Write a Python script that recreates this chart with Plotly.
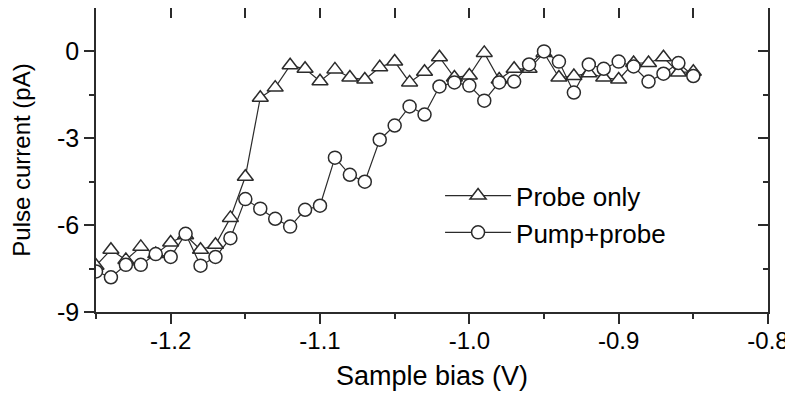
import plotly.graph_objects as go

bias = [-1.25, -1.24, -1.23, -1.22, -1.21, -1.20, -1.19, -1.18, -1.17, -1.16,
        -1.15, -1.14, -1.13, -1.12, -1.11, -1.10, -1.09, -1.08, -1.07, -1.06,
        -1.05, -1.04, -1.03, -1.02, -1.01, -1.00, -0.99, -0.98, -0.97, -0.96,
        -0.95, -0.94, -0.93, -0.92, -0.91, -0.90, -0.89, -0.88, -0.87, -0.86,
        -0.85]

probe_only = [-7.4, -6.85, -7.2, -6.75, -7.0, -6.6, -6.35, -6.85, -6.68, -5.75,
              -4.33, -1.6, -1.25, -0.48, -0.6, -1.03, -0.62, -0.9, -0.97, -0.55,
              -0.35, -1.07, -0.7, -0.2, -0.9, -0.83, -0.05, -0.97, -0.6, -0.6,
              -0.05, -0.9, -0.85, -0.75, -0.9, -0.97, -0.4, -0.4, -0.2, -0.73,
              -0.7]

pump_probe = [-7.6, -7.8, -7.37, -7.37, -7.0, -7.1, -6.3, -7.4, -7.1, -6.45,
              -5.1, -5.43, -5.78, -6.05, -5.47, -5.33, -3.67, -4.26, -4.5, -3.05,
              -2.56, -1.9, -2.18, -1.21, -1.07, -1.18, -1.7, -1.07, -1.04, -0.45,
              0.0, -0.35, -1.42, -0.45, -0.6, -0.35, -0.52, -1.04, -0.77, -0.4,
              -0.85]

x_tick_vals = [-1.2, -1.1, -1.0, -0.9, -0.8]
x_tick_text = ["-1.2", "-1.1", "-1.0", "-0.9", "-0.8"]
y_tick_vals = [-9, -6, -3, 0]
y_tick_text = ["-9", "-6", "-3", "0"]

INK = "#2b2b2b"
FONT = "Liberation Sans, Arial, sans-serif"

fig = go.Figure()
fig.add_trace(go.Scatter(
    x=bias, y=probe_only, name="Probe only", mode="lines+markers",
    line=dict(color=INK, width=1.2),
    marker=dict(symbol="triangle-up", size=14, color="white",
                line=dict(color=INK, width=1.5)),
))
fig.add_trace(go.Scatter(
    x=bias, y=pump_probe, name="Pump+probe", mode="lines+markers",
    line=dict(color=INK, width=1.2),
    marker=dict(symbol="circle", size=13, color="white",
                line=dict(color=INK, width=1.5)),
))
# helper trace so the mirrored (top/right) axes are drawn
fig.add_trace(go.Scatter(x=[None], y=[None], xaxis="x2", yaxis="y2",
                         showlegend=False, hoverinfo="skip"))

xr = [-1.25, -0.8]
yr = [-9, 1.5]

fig.update_layout(
    width=793, height=394,
    margin=dict(l=88, r=33, t=0, b=90),
    paper_bgcolor="white", plot_bgcolor="white",
    font=dict(family=FONT, color="black"),
    showlegend=True,
    legend=dict(x=0.512, y=0.46, xanchor="left", yanchor="top",
                bgcolor="rgba(0,0,0,0)", font=dict(size=26, family=FONT),
                itemwidth=66, tracegroupgap=0),
    xaxis=dict(range=xr, tickvals=x_tick_vals, ticktext=x_tick_text,
               ticks="outside", ticklen=10, tickwidth=1.5, tickcolor=INK,
               minor=dict(tickvals=[-1.25, -1.15, -1.05, -0.95, -0.85],
                          ticks="outside", ticklen=5, tickwidth=1.5, tickcolor=INK),
               showline=True, linecolor=INK, linewidth=1.5, mirror=True,
               showgrid=False, zeroline=False, automargin=False,
               tickfont=dict(size=24), ticklabelstandoff=-4,
               title=dict(text="Sample bias (V)", font=dict(size=27), standoff=14)),
    yaxis=dict(range=yr, tickvals=y_tick_vals, ticktext=y_tick_text,
               ticks="outside", ticklen=10, tickwidth=1.5, tickcolor=INK,
               minor=dict(tickvals=[-7.5, -4.5, -1.5],
                          ticks="outside", ticklen=5, tickwidth=1.5, tickcolor=INK),
               showline=True, linecolor=INK, linewidth=1.5, mirror=True,
               showgrid=False, zeroline=False, automargin=False,
               tickfont=dict(size=25),
               title=dict(text="Pulse current (pA)", font=dict(size=24), standoff=22)),
    xaxis2=dict(range=xr, overlaying="x", side="top", anchor="y2",
                tickvals=[-1.25, -1.2, -1.15, -1.1, -1.05, -1.0, -0.95, -0.9, -0.85, -0.8],
                ticks="inside", ticklen=10, tickwidth=1.5, tickcolor=INK,
                showticklabels=False, showline=False, showgrid=False, zeroline=False),
    yaxis2=dict(range=yr, overlaying="y", side="right", anchor="x2",
                tickvals=y_tick_vals,
                ticks="inside", ticklen=10, tickwidth=1.5, tickcolor=INK,
                minor=dict(tickvals=[-7.5, -4.5, -1.5],
                           ticks="inside", ticklen=5, tickwidth=1.5, tickcolor=INK),
                showticklabels=False, showline=False, showgrid=False, zeroline=False),
)

fig.write_html("out.html")
